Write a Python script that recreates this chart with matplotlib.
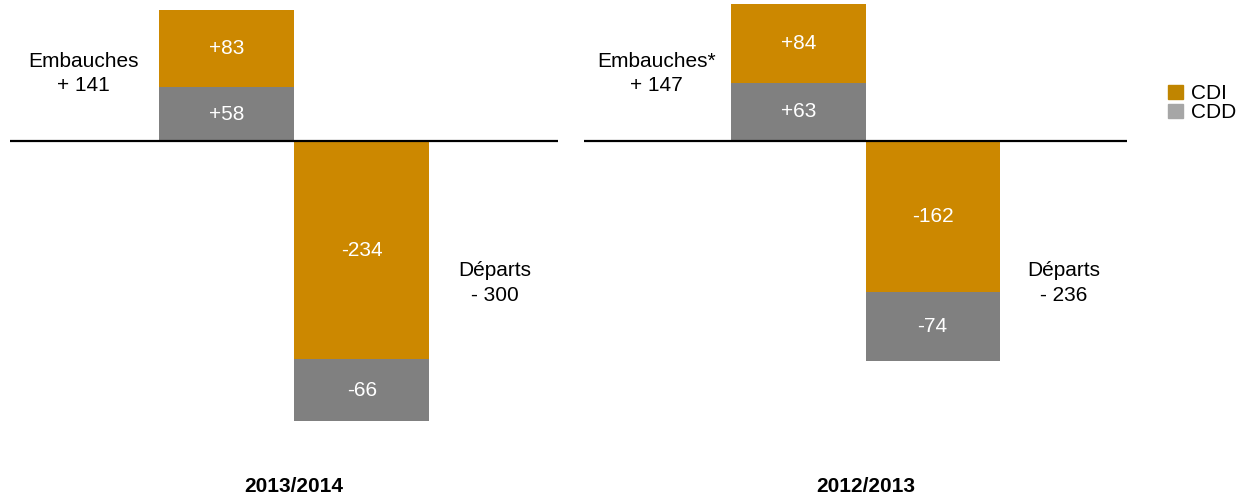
import matplotlib.pyplot as plt
from matplotlib.patches import Patch

plt.rcParams['font.family'] = ['Liberation Sans', 'DejaVu Sans']

# Mouvements de personnel par exercice
periodes = ['2013/2014', '2012/2013']
embauches_cdi = [83, 84]
embauches_cdd = [58, 63]
departs_cdi = [-234, -162]
departs_cdd = [-66, -74]
titres_embauches = ['Embauches', 'Embauches*']

OR = '#CC8800'
GRIS = '#808080'
FS = 15

fig = plt.figure(figsize=(12.38, 4.98), dpi=100)
W, H = 1238, 498

# axes placés en pixels : (gauche, droite)
cadres = [(10, 558), (584, 1127)]
xlim = (-1.6, 2.45)
ylim = (-382.8, 151.6)

for i, (x0, x1) in enumerate(cadres):
    ax = fig.add_axes([x0 / W, 0, (x1 - x0) / W, 1])
    ax.set_xlim(*xlim)
    ax.set_ylim(*ylim)
    ax.axis('off')

    # barres empilées : embauches (positif) puis départs (négatif)
    ax.bar(0, embauches_cdd[i], width=1, color=GRIS)
    ax.bar(0, embauches_cdi[i], bottom=embauches_cdd[i], width=1, color=OR)
    ax.bar(1, departs_cdi[i], width=1, color=OR)
    ax.bar(1, departs_cdd[i], bottom=departs_cdi[i], width=1, color=GRIS)
    ax.axhline(0, color='black', lw=1.6)

    # valeurs dans les segments
    segs = [
        (0, embauches_cdd[i] / 2, f'+{embauches_cdd[i]}'),
        (0, embauches_cdd[i] + embauches_cdi[i] / 2, f'+{embauches_cdi[i]}'),
        (1, departs_cdi[i] / 2, f'{departs_cdi[i]}'),
        (1, departs_cdi[i] + departs_cdd[i] / 2, f'{departs_cdd[i]}'),
    ]
    for x, y, txt in segs:
        ax.text(x, y, txt, color='white', fontsize=FS, ha='center', va='center')

    total_emb = embauches_cdi[i] + embauches_cdd[i]
    total_dep = departs_cdi[i] + departs_cdd[i]
    ax.text(-1.06, 73, f'{titres_embauches[i]}\n+ {total_emb}', fontsize=FS,
            ha='center', va='center', linespacing=1.35)
    ax.text(1.98, -152, f'Départs\n- {abs(total_dep)}', fontsize=FS,
            ha='center', va='center', linespacing=1.35)

    ax.text(0.5, -370, periodes[i], fontsize=FS, fontweight='bold',
            ha='center', va='center')

handles = [Patch(color='#C08500', label='CDI'), Patch(color='#A6A6A6', label='CDD')]
fig.legend(handles=handles, loc='upper left', bbox_to_anchor=(1158 / W, 1 - 74 / H),
           frameon=False, fontsize=FS, handlelength=0.7, handleheight=0.7,
           handletextpad=0.4, labelspacing=0.0, borderpad=0)

fig.savefig('out.png', dpi=100)
